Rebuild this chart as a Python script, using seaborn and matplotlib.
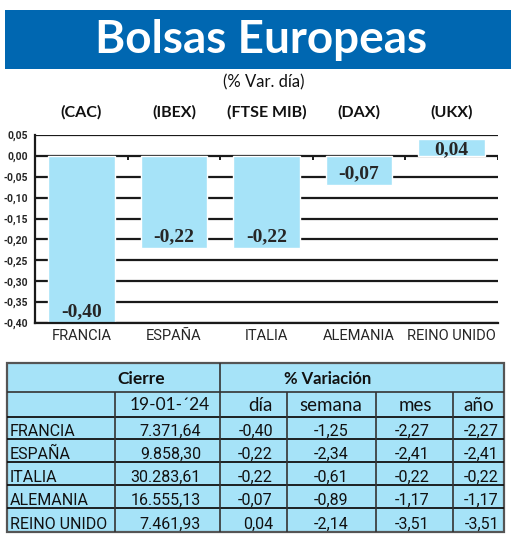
import numpy as np
import pandas as pd
import matplotlib
matplotlib.use("Agg")
import matplotlib.pyplot as plt
import matplotlib.transforms as mtransforms
from matplotlib.patches import Rectangle
from matplotlib.ticker import FuncFormatter, MultipleLocator
import seaborn as sns

# ---- data ----
paises = ["FRANCIA", "ESPAÑA", "ITALIA", "ALEMANIA", "REINO UNIDO"]
indices = ["(CAC)", "(IBEX)", "(FTSE MIB)", "(DAX)", "(UKX)"]
var_dia = [-0.40, -0.22, -0.22, -0.07, 0.04]
cierre = [7371.64, 9858.30, 30283.61, 16555.13, 7461.93]
var_semana = [-1.25, -2.34, -0.61, -0.89, -2.14]
var_mes = [-2.27, -2.41, -0.22, -1.17, -3.51]
var_anio = [-2.27, -2.41, -0.22, -1.17, -3.51]
fecha = "19-01-´24"
titulo = "Bolsas Europeas"
subtitulo = "(% Var. día)"

df = pd.DataFrame({"pais": paises, "var": var_dia})

def fmt_es(v, dec=2):
    s = f"{v:,.{dec}f}"
    return s.replace(",", "X").replace(".", ",").replace("X", ".")

COND = ["Liberation Sans Narrow", "DejaVu Sans Condensed", "Roboto", "DejaVu Sans"]
TITLEF = ["Lato", "Open Sans", "DejaVu Sans"]
SERIF = ["Liberation Serif", "DejaVu Serif"]

sns.set_theme(style="white")
plt.rcParams["font.family"] = COND

BAR = "#a6e3f8"
BLUE = "#0067b1"

W, H = 520, 540
fig = plt.figure(figsize=(W / 100, H / 100), dpi=100)
fig.patch.set_facecolor("white")

# title box
fig.patches.append(Rectangle((5 / W, 1 - 69 / H), 506 / W, 59 / H,
                             transform=fig.transFigure, facecolor=BLUE,
                             edgecolor="none", zorder=0))
fig.text(261 / W, 1 - 40 / H, titulo, color="white", fontsize=33,
         fontweight="bold", family=TITLEF, ha="center", va="center")
fig.text(264 / W, 1 - 82 / H, subtitulo, fontsize=12, family=TITLEF,
         ha="center", va="center", color="#111111")

# ---- bar chart ----
ax_l, ax_r, ax_t, ax_b = 35, 498, 135, 323
ax = fig.add_axes([ax_l / W, 1 - ax_b / H, (ax_r - ax_l) / W, (ax_b - ax_t) / H])
sns.barplot(data=df, x="pais", y="var", color=BAR, saturation=1, width=0.72,
            ax=ax, zorder=2)
ax.set_xlim(-0.5, len(paises) - 0.5)
ax.set_ylim(-0.40, 0.05)
ax.yaxis.set_major_locator(MultipleLocator(0.05))
ax.yaxis.set_major_formatter(FuncFormatter(lambda v, p: fmt_es(v, 2).replace("-0,00", "0,00")))
ax.set_axisbelow(True)
ax.yaxis.grid(True, color="#1a1a1a", lw=1.6)
ax.xaxis.grid(False)
ax.set_xlabel("")
ax.set_ylabel("")
for s in ["top", "right"]:
    ax.spines[s].set_visible(False)
for s in ["left", "bottom"]:
    ax.spines[s].set_color("#1a1a1a")
    ax.spines[s].set_linewidth(1.6)
ax.tick_params(axis="y", length=0, pad=5, labelsize=7.5)
ax.tick_params(axis="x", length=0, pad=4, labelsize=10.5)
for lab in ax.get_yticklabels():
    lab.set_fontweight("bold")
# small boundary ticks on zero line
bounds = np.arange(len(paises)) + 0.5
ax.vlines(bounds, -0.009, 0, color="#1a1a1a", lw=1.4, zorder=1)

for i, v in enumerate(var_dia):
    if v < 0:
        ax.annotate(fmt_es(v), (i, v), xytext=(0, 2), textcoords="offset points",
                    ha="center", va="bottom", fontsize=14, fontweight="bold",
                    family=SERIF, zorder=5)
    else:
        ax.annotate(fmt_es(v), (i, v), xytext=(0, -1.5), textcoords="offset points",
                    ha="center", va="top", fontsize=14, fontweight="bold",
                    family=SERIF, zorder=5)

tr = mtransforms.blended_transform_factory(ax.transData, fig.transFigure)
for i, t in enumerate(indices):
    ax.text(i, 1 - 112 / H, t, transform=tr, ha="center", va="center",
            fontsize=11.5, fontweight="bold", family=TITLEF, color="#111111")

# ---- table ----
tx = fig.add_axes([0, 0, 1, 1], zorder=3)
tx.set_xlim(0, W)
tx.set_ylim(H, 0)
tx.axis("off")
tx.patch.set_alpha(0)

cols = [7, 115, 220, 287, 376, 453, 504]
rows = [363, 392, 417, 439, 462, 485, 508, 532]
tx.add_patch(Rectangle((cols[0], rows[0]), cols[-1] - cols[0], rows[-1] - rows[0],
                       facecolor=BAR, edgecolor="#555555", lw=1.6))
LC = "#333333"
tx.hlines(rows[1], cols[0], cols[-1], color=LC, lw=1.2)
tx.hlines(rows[2:-1], cols[0], cols[-1], color="#111111", lw=1.3)
tx.vlines(cols[2], rows[0], rows[-1], color=LC, lw=1.2)
tx.vlines([cols[1], cols[3], cols[4], cols[5]], rows[1], rows[-1], color=LC, lw=1.2)

tc = "#111111"
tx.text(141, (rows[0] + rows[1]) / 2 + 1, "Cierre", ha="center", va="center",
        fontsize=12.5, fontweight="bold", family=TITLEF, color=tc)
tx.text(328, (rows[0] + rows[1]) / 2 + 1, "% Variación", ha="center", va="center",
        fontsize=12, fontweight="bold", family=TITLEF, color=tc)
hy = (rows[1] + rows[2]) / 2 + 1
tx.text(170, hy, fecha, ha="center", va="center", fontsize=12.5, color=tc, family=TITLEF)
tx.text(273, hy, "día", ha="right", va="center", fontsize=13.5, color=tc, family=TITLEF)
tx.text(331, hy, "semana", ha="center", va="center", fontsize=13.5, color=tc, family=TITLEF)
tx.text(415, hy, "mes", ha="center", va="center", fontsize=13.5, color=tc, family=TITLEF)
tx.text(479, hy, "año", ha="center", va="center", fontsize=13.5, color=tc, family=TITLEF)

fs = 11.5
for r in range(len(paises)):
    yb = rows[r + 3] - 3
    tx.text(10, yb, paises[r], ha="left", va="baseline", fontsize=fs, color=tc)
    tx.text(201, yb, fmt_es(cierre[r]), ha="right", va="baseline", fontsize=fs, color=tc)
    tx.text(273, yb, fmt_es(var_dia[r]), ha="right", va="baseline", fontsize=fs, color=tc)
    tx.text(331, yb, fmt_es(var_semana[r]), ha="center", va="baseline", fontsize=fs, color=tc)
    tx.text(412, yb, fmt_es(var_mes[r]), ha="center", va="baseline", fontsize=fs, color=tc)
    tx.text(499, yb, fmt_es(var_anio[r]), ha="right", va="baseline", fontsize=fs, color=tc)

fig.savefig("out.png", dpi=100)
